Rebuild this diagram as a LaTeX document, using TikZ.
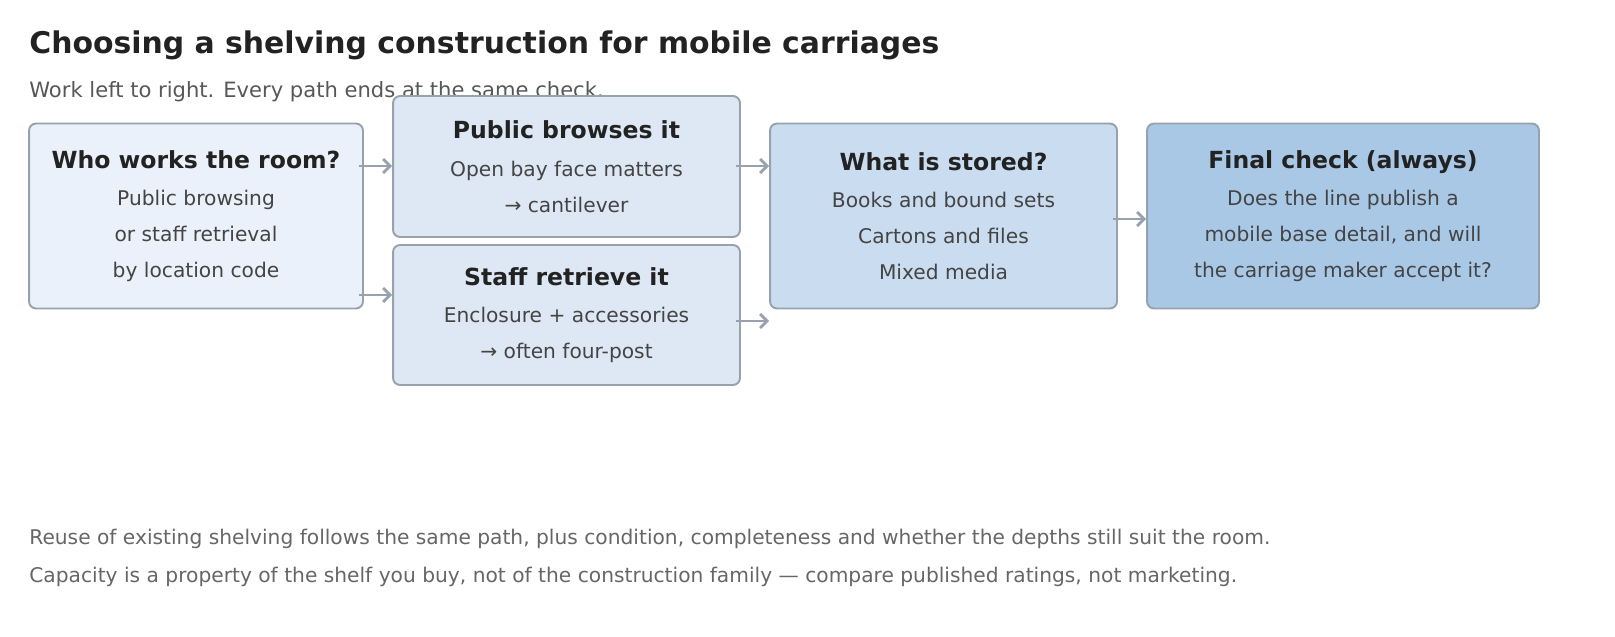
\documentclass[tikz,border=0pt]{standalone}
\usepackage{fontspec}
\setmainfont{DejaVu Sans}
\usepackage{xcolor}
\usetikzlibrary{arrows.meta,positioning}
\definecolor{edgegray}{HTML}{98A2AE}
\definecolor{inkdark}{HTML}{222222}
\definecolor{inkbody}{HTML}{444444}
\definecolor{inkfoot}{HTML}{666666}
\definecolor{fillone}{HTML}{EBF1FA}
\definecolor{filltwo}{HTML}{DEE8F5}
\definecolor{fillthree}{HTML}{C9DCF0}
\definecolor{fillfour}{HTML}{A9C8E6}
\newcommand{\boxhead}[1]{{\fontsize{13.4}{16}\selectfont\bfseries\color{inkdark}#1}}

\begin{document}
\begin{tikzpicture}[
  x=0.02cm, y=-0.02cm,
  stage/.style={draw=edgegray, line width=1.1pt, rounded corners=4pt,
    align=center, text=inkbody, inner sep=0pt,
    font=\fontsize{11.5}{20.4}\selectfont},
  note/.style={anchor=base west, inner sep=0pt},
  link/.style={-{Straight Barb[length=4pt,width=8pt,line width=1.6pt]}, draw=edgegray, line width=1.6pt}
]
\useasboundingbox (0,0) rectangle (1615,636);

\node[note, font=\fontsize{17}{20}\selectfont\bfseries, text=inkdark] (title) at (29,53)
  {Choosing a shelving construction for mobile carriages};
\node[note, font=\fontsize{12}{14}\selectfont, text=inkbody!90] (sub) at (29,97)
  {Work left to right. Every path ends at the same check.};

\node[stage, fill=fillone, minimum width=6.68cm, minimum height=3.7cm] (who) at (196,216)
  {\boxhead{Who works the room?}\\[1pt]
   Public browsing\\or staff retrieval\\by location code};
\node[stage, fill=filltwo, minimum width=6.94cm, minimum height=2.82cm] (public) at (566.5,166.5)
  {\boxhead{Public browses it}\\[1pt]
   Open bay face matters\\→ cantilever};
\node[stage, fill=filltwo, minimum width=6.94cm, minimum height=2.8cm] (staff) at (566.5,315)
  {\boxhead{Staff retrieve it}\\[1pt]
   Enclosure + accessories\\→ often four-post};
\node[stage, fill=fillthree, minimum width=6.94cm, minimum height=3.7cm] (stored) at (943.5,216)
  {\boxhead{What is stored?}\\[1pt]
   Books and bound sets\\Cartons and files\\Mixed media};
\node[stage, fill=fillfour, minimum width=7.84cm, minimum height=3.7cm] (check) at (1343,216)
  {\boxhead{Final check (always)}\\[1pt]
   Does the line publish a\\mobile base detail, and will\\the carriage maker accept it?};

\draw[link] ([xshift=-3pt]who.east |- 0,166) -- (public.west |- 0,166);
\draw[link] ([xshift=-3pt]who.east |- 0,295) -- (staff.west |- 0,295);
\draw[link] ([xshift=-3pt]public.east |- 0,166) -- (stored.west |- 0,166);
\draw[link] ([xshift=-3pt]staff.east |- 0,321) -- (stored.west |- 0,321);
\draw[link] ([xshift=-3pt]stored.east |- 0,219) -- (check.west |- 0,219);

\node[note, font=\fontsize{11.5}{13}\selectfont, text=inkfoot] (reuse) at (29,544)
  {Reuse of existing shelving follows the same path, plus condition, completeness and whether the depths still suit the room.};
\node[note, font=\fontsize{11.5}{13}\selectfont, text=inkfoot] (capacity) at (29,582)
  {Capacity is a property of the shelf you buy, not of the construction family — compare published ratings, not marketing.};
\end{tikzpicture}
\end{document}
